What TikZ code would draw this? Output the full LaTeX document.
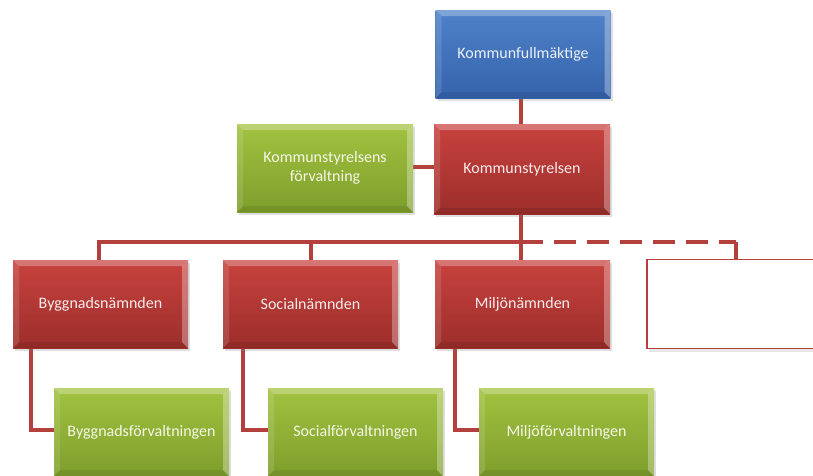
\documentclass[tikz,border=0pt]{standalone}
\usepackage{fontspec}
\setmainfont{Carlito}
\usetikzlibrary{shadows,calc}
\definecolor{bluetop}{HTML}{4F82C8}
\definecolor{bluebot}{HTML}{3563AC}
\definecolor{redtop}{HTML}{C8423E}
\definecolor{redbot}{HTML}{9C2E2B}
\definecolor{greentop}{HTML}{A2C240}
\definecolor{greenbot}{HTML}{7E9E2C}
\definecolor{linecol}{HTML}{B3403D}
\tikzset{
  bevel/.style={path picture={
    \coordinate (nw) at (path picture bounding box.north west);
    \coordinate (ne) at (path picture bounding box.north east);
    \coordinate (sw) at (path picture bounding box.south west);
    \coordinate (se) at (path picture bounding box.south east);
    \fill[white,opacity=0.28] (nw) -- (ne) -- ($(ne)+(-6pt,-6pt)$) -- ($(nw)+(6pt,-6pt)$) -- cycle;
    \fill[white,opacity=0.12] (nw) -- (sw) -- ($(sw)+(6pt,6pt)$) -- ($(nw)+(6pt,-6pt)$) -- cycle;
    \fill[white,opacity=0.30] (ne) -- (se) -- ($(se)+(-6pt,6pt)$) -- ($(ne)+(-6pt,-6pt)$) -- cycle;
    \fill[black,opacity=0.08] (sw) -- (se) -- ($(se)+(-6pt,6pt)$) -- ($(sw)+(6pt,6pt)$) -- cycle;
  }},
  orgbox/.style={rectangle, inner sep=0pt, minimum width=175pt, minimum height=88pt,
    align=center, font=\fontsize{16}{19}\selectfont, bevel,
    drop shadow={shadow xshift=2pt, shadow yshift=-3pt, opacity=0.25}},
  bluebox/.style={orgbox, top color=bluetop, bottom color=bluebot, text=white!88!bluetop},
  redbox/.style={orgbox, top color=redtop, bottom color=redbot, text=white!90!redtop},
  greenbox/.style={orgbox, top color=greentop, bottom color=greenbot, text=white!88!greentop},
  conn/.style={draw=linecol, line width=4.5pt},
  dashconn/.style={draw=linecol, line width=4.5pt, dash pattern=on 22pt off 11pt},
}
\begin{document}
\begin{tikzpicture}[x=1pt,y=-1pt]
\useasboundingbox (0,0) rectangle (813,475);
\clip (0,0) rectangle (813,475);
% connectors first (behind boxes)
\coordinate (bus) at (521,242);
\coordinate (dashend) at (736,242);
\coordinate (emptytop) at (736,259);
\coordinate (kfbot) at (521,98);
\coordinate (kstop) at (521,124);
\coordinate (ksbot) at (521,214);
\coordinate (ksfr) at (413,167);
\coordinate (ksl) at (434,167);
\draw[conn] (kfbot) -- (kstop);
\draw[conn] (ksfr) -- (ksl);
\draw[conn] (ksbot) -- (bus);
\coordinate (bnt) at (99,260);
\coordinate (snt) at (311,260);
\coordinate (mnt) at (521,260);
\draw[conn] (bnt) |- (bus) -- (mnt);
\draw[conn] (snt) -- (snt |- bus);
\draw[dashconn] (bus) -- (dashend);
\draw[conn] (dashend) -- (emptytop);
\coordinate (bnb) at (31,340);
\coordinate (snb) at (243,340);
\coordinate (mnb) at (455,340);
\coordinate (bfw) at (60,430);
\coordinate (sfw) at (274,430);
\coordinate (mfw) at (485,430);
\draw[conn] (bnb) |- (bfw);
\draw[conn] (snb) |- (sfw);
\draw[conn] (mnb) |- (mfw);
% boxes
\node[bluebox] (kf) at (523,54) {Kommunfullmäktige};
\node[redbox, minimum width=176pt, minimum height=90pt] (ks) at (522,169) {Kommunstyrelsen};
\node[greenbox, minimum width=176pt] (ksf) at (325,168) {Kommunstyrelsens\\förvaltning};
\node[redbox] (bn) at (100.5,304) {Byggnadsnämnden};
\node[redbox] (sn) at (310.5,304) {Socialnämnden};
\node[redbox] (mn) at (522.5,304) {Miljönämnden};
\node[rectangle, draw=linecol, line width=1.6pt, fill=white, minimum width=190pt, minimum height=89pt,
  drop shadow={shadow xshift=2pt, shadow yshift=-3pt, opacity=0.2}] (empty) at (742,304) {};
\node[greenbox] (bf) at (141.5,432) {Byggnadsförvaltningen};
\node[greenbox] (sf) at (355.5,432) {Socialförvaltningen};
\node[greenbox] (mf) at (566.5,432) {Miljöförvaltningen};
\end{tikzpicture}
\end{document}
